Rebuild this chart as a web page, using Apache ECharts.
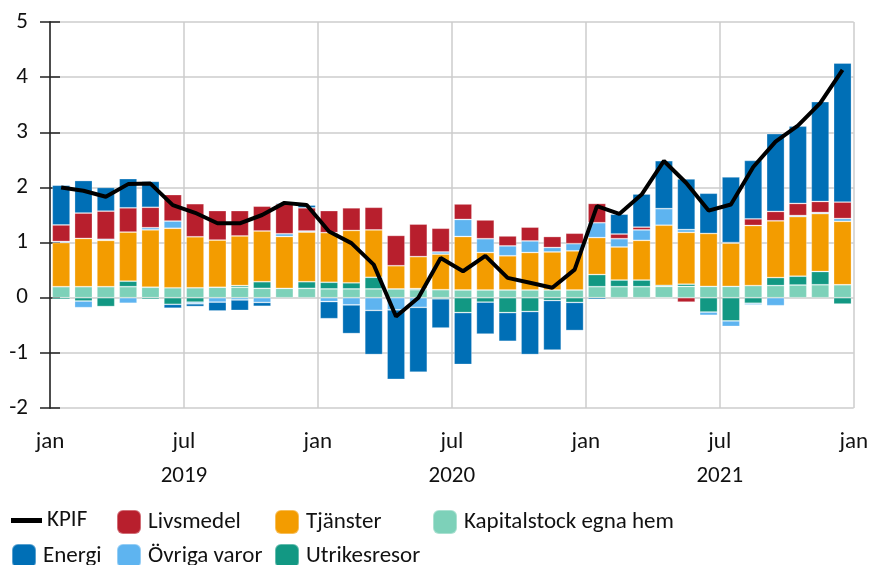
<!DOCTYPE html>
<html>
<head>
<meta charset="utf-8">
<script src="https://cdn.jsdelivr.net/npm/echarts@6/dist/echarts.min.js"></script>
<style>html,body{margin:0;padding:0;background:#fff}#c{width:871px;height:565px}</style>
</head>
<body>
<div id="c"></div>
<script>
// ---- data ----
const months = ['2019-01','2019-02','2019-03','2019-04','2019-05','2019-06','2019-07','2019-08','2019-09','2019-10','2019-11','2019-12',
  '2020-01','2020-02','2020-03','2020-04','2020-05','2020-06','2020-07','2020-08','2020-09','2020-10','2020-11','2020-12',
  '2021-01','2021-02','2021-03','2021-04','2021-05','2021-06','2021-07','2021-08','2021-09','2021-10','2021-11','2021-12'];
const kpif = [2.0,1.94,1.83,2.06,2.07,1.68,1.54,1.35,1.35,1.5,1.72,1.68,
  1.2,0.99,0.6,-0.34,0.0,0.72,0.48,0.76,0.36,0.27,0.18,0.51,
  1.66,1.52,1.87,2.48,2.08,1.58,1.69,2.37,2.83,3.12,3.53,4.13];
const kapitalstock = [0.2,0.2,0.2,0.2,0.19,0.18,0.18,0.19,0.19,0.17,0.17,0.17,
  0.16,0.16,0.16,0.16,0.145,0.145,0.14,0.14,0.14,0.14,0.14,0.14,
  0.2,0.2,0.2,0.205,0.205,0.205,0.205,0.22,0.22,0.23,0.235,0.235];
const utrikesresor = [-0.03,-0.06,-0.16,0.1,-0.03,-0.12,-0.08,0,0.03,0.12,0,0.12,
  0.12,0.11,0.21,0,0.02,-0.02,-0.27,-0.08,-0.27,-0.25,-0.05,-0.085,
  0.22,0.12,0.12,0.02,0.04,-0.26,-0.42,-0.1,0.145,0.16,0.24,-0.115];
const tjanster = [0.8,0.875,0.84,0.89,1.04,1.08,0.925,0.855,0.9,0.92,0.94,0.9,
  0.9,0.95,0.86,0.42,0.58,0.645,0.97,0.68,0.62,0.68,0.69,0.71,
  0.67,0.6,0.72,1.09,0.94,0.96,0.785,1.09,1.03,1.08,1.05,1.15];
const ovrigaVaror = [0.02,-0.12,0.02,-0.1,0.04,0.13,-0.03,-0.08,-0.04,-0.085,0.05,0.02,
  -0.07,-0.13,-0.23,-0.22,-0.175,0.04,0.31,0.25,0.18,0.21,0.08,0.13,
  0.27,0.15,0.19,0.3,0.05,-0.06,-0.1,-0.03,-0.145,0.02,0.02,0.05];
const livsmedel = [0.3,0.46,0.51,0.44,0.37,0.48,0.6,0.535,0.46,0.45,0.54,0.42,
  0.4,0.41,0.41,0.55,0.59,0.43,0.28,0.34,0.18,0.25,0.2,0.19,
  0.35,0.085,0.05,-0.01,-0.08,0,0.01,0.12,0.17,0.22,0.2,0.3];
const energi = [0.72,0.59,0.43,0.53,0.47,-0.07,-0.05,-0.16,-0.19,-0.07,0.02,0.05,
  -0.31,-0.52,-0.8,-1.26,-1.175,-0.53,-0.94,-0.58,-0.52,-0.78,-0.9,-0.51,
  -0.03,0.36,0.6,0.87,0.92,0.73,1.19,1.06,1.41,1.4,1.81,2.52];
const monthTickLabels = ['jan','jul','jan','jul','jan','jul','jan'];
const yearLabels = {6:'2019', 18:'2020', 30:'2021'};

// ---- chart ----
const FONT = 'Carlito, "Liberation Sans", sans-serif';
const FS = 23;
const chart = echarts.init(document.getElementById('c'), null, {renderer:'canvas'});
const barSeries = [
  ['Kapitalstock egna hem', kapitalstock, '#7dd1b9'],
  ['Utrikesresor', utrikesresor, '#129883'],
  ['Tjänster', tjanster, '#f39c00'],
  ['Övriga varor', ovrigaVaror, '#5eb4f0'],
  ['Livsmedel', livsmedel, '#b81f2d'],
  ['Energi', energi, '#006fb6']
].map(([name, data, color]) => ({
  name, type:'bar', stack:'tot', data, xAxisIndex:0, yAxisIndex:0,
  barWidth:'80%', itemStyle:{color, borderColor:'rgba(255,255,255,0.35)', borderWidth:0.8},
  emphasis:{disabled:true}
}));

function legendItem(name, left, top, opts) {
  return Object.assign({
    data:[name], left, top, padding:0, itemWidth:24, itemHeight:24, itemGap:0,
    textStyle:{fontSize:FS, color:'#111', fontFamily:FONT, padding:[0,0,0,2]}, selectedMode:false
  }, opts || {});
}

chart.setOption({
  animation:false,
  textStyle:{fontFamily:FONT},
  grid:{left:50, right:16, top:22, bottom:157, containLabel:false},
  legend:[
    legendItem('KPIF', 11, 509, {itemWidth:31, itemHeight:5, icon:'rect',
      textStyle:{fontSize:FS, color:'#111', fontFamily:FONT, padding:[0,0,0,0]}}),
    legendItem('Livsmedel', 116, 509),
    legendItem('Tjänster', 274, 509),
    legendItem('Kapitalstock egna hem', 432, 509),
    legendItem('Energi', 11, 543),
    legendItem('Övriga varor', 116, 543),
    legendItem('Utrikesresor', 274, 543)
  ],
  xAxis:[
    {type:'category', data:months, show:false, boundaryGap:true},
    {type:'value', min:0, max:36, interval:6, position:'bottom',
      axisLine:{show:false}, axisTick:{show:false},
      splitLine:{show:true, lineStyle:{color:'#cccccc', width:1.5}},
      axisLabel:{margin:23, fontSize:FS, color:'#111', fontFamily:FONT, showMinLabel:true, showMaxLabel:true,
        formatter:(v)=>monthTickLabels[Math.round(v/6)]}},
    {type:'value', min:0, max:36, interval:6, position:'bottom',
      axisLine:{show:false}, axisTick:{show:false}, splitLine:{show:false},
      axisLabel:{margin:57, fontSize:FS, color:'#111', fontFamily:FONT, showMinLabel:true, showMaxLabel:true,
        formatter:(v)=>yearLabels[Math.round(v)] || ''}}
  ],
  yAxis:[
    {type:'value', min:-2, max:5, interval:1, position:'left',
      axisLine:{show:true, lineStyle:{color:'#444', width:1.5}},
      axisTick:{show:true, inside:true, length:10, lineStyle:{color:'#222', width:1.5}},
      splitLine:{show:true, lineStyle:{color:'#cccccc', width:1.5}},
      axisLabel:{margin:22, fontSize:FS, color:'#111', fontFamily:FONT}},
    {type:'value', min:-2, max:5, interval:1, position:'right',
      axisLine:{show:true, lineStyle:{color:'#444', width:1.5}},
      axisTick:{show:true, inside:true, length:10, lineStyle:{color:'#222', width:1.5}},
      splitLine:{show:false}, axisLabel:{show:false}}
  ],
  series:[...barSeries,
    {name:'KPIF', type:'line', data:kpif, xAxisIndex:0, yAxisIndex:0, z:10,
      symbol:'none', color:'#000', lineStyle:{color:'#000', width:4}, emphasis:{disabled:true}}
  ]
});
</script>
</body>
</html>
